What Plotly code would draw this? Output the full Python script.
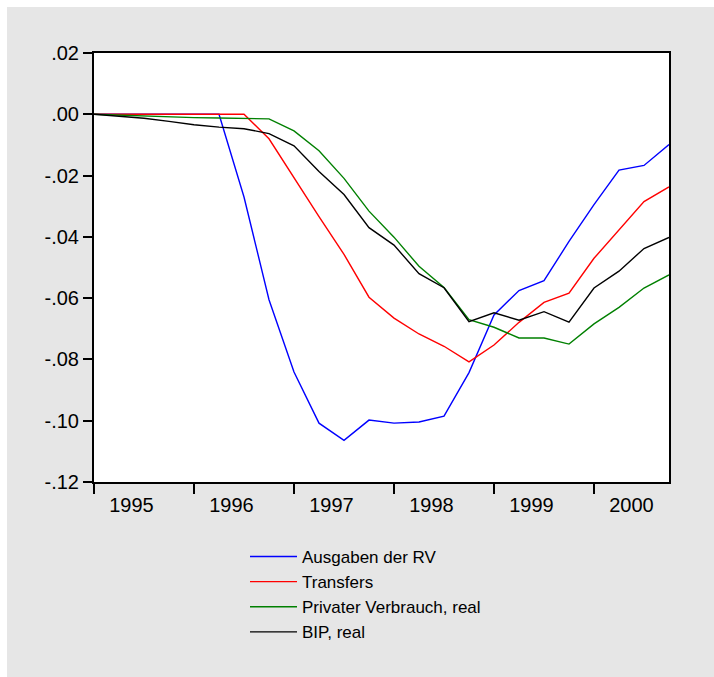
import plotly.graph_objects as go

quarters = list(range(24))  # 1995Q1 .. 2000Q4
year_labels = ["1995", "1996", "1997", "1998", "1999", "2000"]
year_label_pos = [1.5, 5.5, 9.5, 13.5, 17.5, 21.5]
year_ticks = [0, 4, 8, 12, 16, 20]

ausgaben_rv = [0.0, 0.0, 0.0, 0.0, 0.0, 0.0, -0.0270, -0.0605, -0.0841, -0.1008, -0.1064, -0.0998, -0.1008, -0.1004, -0.0985,
               -0.0843, -0.0655, -0.0575, -0.0543, -0.0415, -0.0295, -0.0182, -0.0167, -0.0099]
transfers = [0.0, 0.0, 0.0, 0.0, 0.0, 0.0, 0.0, -0.0080, -0.0208, -0.0334, -0.0457, -0.0597, -0.0665, -0.0717, -0.0757,
             -0.0808, -0.0753, -0.0679, -0.0614, -0.0584, -0.0470, -0.0377, -0.0285, -0.0237]
privater_verbrauch = [0.0, -0.0003, -0.0006, -0.0009, -0.0011, -0.0012, -0.0014, -0.0015, -0.0054, -0.0119, -0.0209, -0.0316,
                      -0.0401, -0.0496, -0.0565, -0.0670, -0.0695, -0.0730, -0.0730, -0.0750, -0.0684, -0.0630, -0.0567, -0.0524]
bip_real = [0.0, -0.0006, -0.0013, -0.0023, -0.0034, -0.0042, -0.0047, -0.0063, -0.0103, -0.0187, -0.0262, -0.0370,
            -0.0427, -0.0520, -0.0566, -0.0677, -0.0648, -0.0672, -0.0644, -0.0678, -0.0567, -0.0512, -0.0438, -0.0402]

y_ticks = [0.02, 0.0, -0.02, -0.04, -0.06, -0.08, -0.10, -0.12]
y_tick_text = [".02", ".00", "-.02", "-.04", "-.06", "-.08", "-.10", "-.12"]

series = [
    ("Ausgaben der RV", ausgaben_rv, "#0000ff"),
    ("Transfers", transfers, "#ff0000"),
    ("Privater Verbrauch, real", privater_verbrauch, "#008000"),
    ("BIP, real", bip_real, "#000000"),
]

fig = go.Figure()
for name, vals, col in series:
    fig.add_trace(go.Scatter(x=quarters, y=vals, mode="lines", name=name,
                             line=dict(color=col, width=1.4)))

W, H = 714, 677
L, R, T, B = 94, 45, 53, 195
pw = W - L - R
ph = H - T - B


def px_x(p):
    return (p - L) / pw


def px_y(p):
    return (H - B - p) / ph


fig.update_layout(
    width=W, height=H,
    margin=dict(l=L, r=R, t=T, b=B, pad=0),
    paper_bgcolor="#e6e6e6",
    plot_bgcolor="#ffffff",
    font=dict(family="Liberation Sans, Arial", size=18, color="#000000"),
    showlegend=True,
    legend=dict(
        x=px_x(245), y=px_y(539), xanchor="left", yanchor="top",
        bgcolor="rgba(0,0,0,0)", font=dict(size=17),
        itemwidth=47, tracegroupgap=0,
    ),
    shapes=[
        dict(type="rect", xref="paper", yref="paper", layer="below",
             x0=px_x(0), x1=px_x(W), y0=px_y(7), y1=px_y(0),
             fillcolor="#ffffff", line=dict(width=0)),
        dict(type="rect", xref="paper", yref="paper", layer="below",
             x0=px_x(0), x1=px_x(7), y0=px_y(H), y1=px_y(0),
             fillcolor="#ffffff", line=dict(width=0)),
    ],
)

fig.update_xaxes(
    range=[0, 23], showgrid=False, zeroline=False,
    showline=True, linecolor="#000000", linewidth=2, mirror=True,
    tickmode="array", tickvals=year_label_pos, ticktext=year_labels,
    ticks="outside", ticklen=4, tickcolor="rgba(0,0,0,0)", tickwidth=2,
    tickfont=dict(size=20),
    minor=dict(tickmode="array", tickvals=year_ticks, ticks="outside",
               ticklen=10, tickcolor="#000000", tickwidth=2, showgrid=False),
)
fig.update_yaxes(
    range=[-0.12, 0.02], showgrid=False, zeroline=False,
    showline=True, linecolor="#000000", linewidth=2, mirror=True,
    tickmode="array", tickvals=y_ticks, ticktext=y_tick_text,
    ticks="outside", ticklen=9, tickcolor="#000000", tickwidth=2,
    tickfont=dict(size=20),
)

fig.write_html(
    "out.html",
    config={"displayModeBar": False},
    post_script="document.body.style.margin='0px';document.body.style.overflow='hidden';",
)
